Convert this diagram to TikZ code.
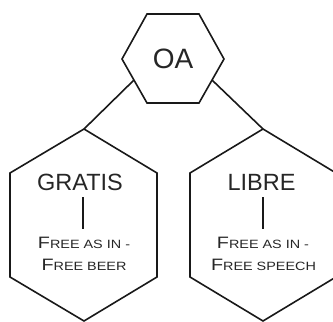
\documentclass[tikz,border=0pt]{standalone}
\usepackage{fontspec}
\usepackage{graphicx}
\setmainfont{Liberation Sans}
\newcommand\fakesc[2]{\scalebox{1.2}[1]{{\fontsize{16.5}{16.5}\selectfont #1}{\fontsize{12}{12}\selectfont #2}}}
\tikzset{
  hexline/.style={draw=black!90, line width=1.6pt, line join=miter},
  conn/.style={draw=black!90, line width=1.6pt},
  bigtxt/.style={inner sep=0pt, anchor=base, text=black!85, font=\fontsize{28}{28}\selectfont},
  midtxt/.style={inner sep=0pt, anchor=base, text=black!85, font=\fontsize{23.5}{23.5}\selectfont},
  smtxt/.style={inner sep=0pt, anchor=base, text=black!85},
}
\begin{document}
\begin{tikzpicture}[x=1pt,y=-1pt]
\useasboundingbox (0,0) rectangle (333,322);
% top hexagon
\draw[hexline] (147,14) -- (199,14) -- (224,59) -- (199,103) -- (147,103) -- (122,59) -- cycle;
\coordinate (tl) at (134,80);
\coordinate (tr) at (212,80);
% left hexagon
\coordinate (lt) at (84,129);
\draw[hexline] (lt) -- (10,173) -- (10,277) -- (84,321) -- (157,277) -- (157,173) -- cycle;
% right hexagon
\coordinate (rt) at (263,129);
\draw[hexline] (rt) -- (190,173) -- (190,277) -- (263,321) -- (336,277) -- (336,173) -- cycle;
% connectors
\draw[conn] (tl) -- (lt);
\draw[conn] (tr) -- (rt);
% texts
\node[bigtxt] (oa) at (173,68) {OA};
\node[midtxt] (gratis) at (80,190) {GRATIS};
\node[midtxt] (libre) at (261.5,190) {LIBRE};
\node[smtxt] (g1) at (84,248) {\fakesc{F}{REE AS IN -}};
\node[smtxt] (g2) at (84,270) {\fakesc{F}{REE BEER}};
\node[smtxt] (l1) at (263,248) {\fakesc{F}{REE AS IN -}};
\node[smtxt] (l2) at (263.5,270) {\fakesc{F}{REE SPEECH}};
\coordinate (gv1) at (83,197);
\coordinate (gv2) at (83,229);
\coordinate (lv1) at (263,197);
\coordinate (lv2) at (263,229);
\draw[conn] (gv1) -- (gv2);
\draw[conn] (lv1) -- (lv2);
\end{tikzpicture}
\end{document}
